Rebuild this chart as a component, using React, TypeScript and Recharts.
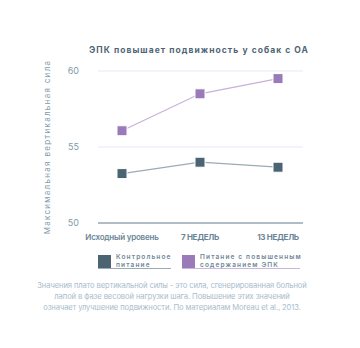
import React from 'react';
import { LineChart, Line, XAxis, YAxis, CartesianGrid } from 'recharts';

const categories = ['Исходный уровень', '7 НЕДЕЛЬ', '13 НЕДЕЛЬ'];
const controlValues = [53.25, 54.0, 53.67];
const epaValues = [56.07, 58.5, 59.5];
const yTicks = [50, 55, 60];
const seriesNames = ['Контрольное питание', 'Питание с повышенным содержанием ЭПК'];
const legendLines = [['Контрольное', 'питание'], ['Питание с повышенным', 'содержанием ЭПК']];

const data = categories.map((c, i) => ({ name: c, control: controlValues[i], epa: epaValues[i] }));

const DARK = '#4a6472';
const PURPLE = '#9a7ab9';
const TICK = '#7f9aab';
const FONT = 'Inter, "Open Sans", sans-serif';

const Square = (color: string) => (props: any) => {
  const { cx, cy } = props;
  if (cx == null || cy == null) return null;
  return <rect x={cx - 5} y={cy - 5} width={10} height={10} fill={color} stroke="#fff" strokeWidth={1} />;
};

const XTick = (props: any) => {
  const { x, y, payload, index } = props;
  const bold = index > 0;
  return (
    <text x={x} y={y} dy={9} textAnchor="middle" fontFamily={FONT} fontSize={8} fontWeight={bold ? 700 : 600} fill="#6a8596" letterSpacing={bold ? -0.3 : -0.2}>
      {payload.value}
    </text>
  );
};

const LegendBlock = () => {
  const colors = [DARK, PURPLE];
  const underline = ['#9aabb5', '#c9b6dc'];
  const xs = [98, 182];
  const widths = [73, 118];
  return (
    <div style={{ position: 'absolute', left: 0, top: 255, width: 360, height: 20 }}>
      {legendLines.map((lines, i) => (
        <div key={i} title={seriesNames[i]} style={{ position: 'absolute', left: xs[i], top: 0, width: widths[i], height: 13, borderBottom: `1px solid ${underline[i]}` }}>
          <div style={{ position: 'absolute', left: 0, top: 0, width: 13, height: 13, background: colors[i] }} />
          <div style={{ position: 'absolute', left: 18, top: -1, fontFamily: FONT, fontSize: 6.5, lineHeight: '7.5px', letterSpacing: 1.15, color: '#6f8797', fontWeight: 600, whiteSpace: 'nowrap' }}>
            {lines[0]}<br />{lines[1]}
          </div>
        </div>
      ))}
    </div>
  );
};

export default function App() {
  return (
    <div style={{ position: 'absolute', left: 0, top: 0, width: 360, height: 348, background: '#fff' }}>
      <div style={{ position: 'absolute', left: 0, top: 45, width: 398, textAlign: 'center', fontFamily: FONT, fontSize: 8.5, fontWeight: 700, letterSpacing: 1.05, color: '#4e6474' }}>
        ЭПК повышает подвижность у собак с ОА
      </div>
      <div style={{ position: 'absolute', left: 0, top: 0 }}>
        <LineChart width={360} height={348} data={data} margin={{ top: 71, right: 57, bottom: 105, left: 58 }}>
          <CartesianGrid vertical={false} stroke="#eef0f7" strokeWidth={1.5} />
          <XAxis dataKey="name" tick={<XTick />} tickLine={false} axisLine={{ stroke: '#9aabb5', strokeWidth: 1.5 }} padding={{ left: 24, right: 25 }} interval={0} height={20} />
          <YAxis domain={[50, 60]} ticks={yTicks} width={40} tickLine={false} axisLine={false} tickSize={0} tickMargin={19}
            tick={{ fill: TICK, fontSize: 9, fontFamily: FONT }}
            label={{ value: 'Максимальная вертикальная сила', angle: -90, position: 'insideLeft', dx: -16, dy: 0, style: { fill: TICK, fontSize: 8, fontFamily: FONT, letterSpacing: 1.3, textAnchor: 'middle' } }} />
          <Line dataKey="control" name={seriesNames[0]} stroke="#9aabb5" strokeWidth={1.2} dot={Square(DARK)} activeDot={false} isAnimationActive={false} />
          <Line dataKey="epa" name={seriesNames[1]} stroke="#c6b2da" strokeWidth={1.2} dot={Square(PURPLE)} activeDot={false} isAnimationActive={false} />
        </LineChart>
      </div>
      <LegendBlock />
      <div style={{ position: 'absolute', left: 0, top: 280, width: 344, textAlign: 'center', fontFamily: FONT, fontSize: 7.6, lineHeight: '11px', color: '#a9bccb', letterSpacing: -0.1 }}>
        Значения плато вертикальной силы - это сила, сгенерированная больной<br />
        лапой в фазе весовой нагрузки шага. Повышение этих значений<br />
        означает улучшение подвижности. По материалам Moreau et al., 2013.
      </div>
    </div>
  );
}
